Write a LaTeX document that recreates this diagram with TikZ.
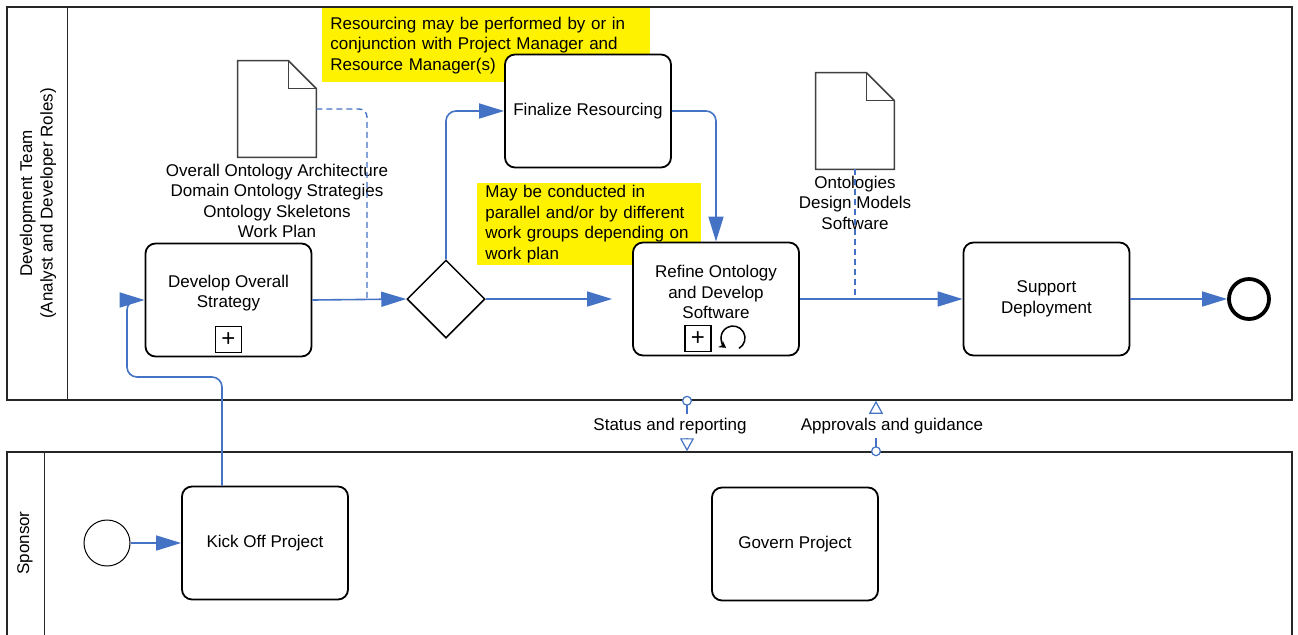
\documentclass[tikz,border=0pt]{standalone}
\usepackage{fontspec}
\setmainfont{Liberation Sans}
\usetikzlibrary{arrows.meta,positioning,shapes.geometric}
\definecolor{flowblue}{RGB}{68,114,196}
\newcommand{\txt}{\fontsize{8.5}{10.3}\selectfont}
\tikzset{pool/.style={rectangle,draw=black!85,line width=0.75pt,inner sep=0pt}}
\tikzset{lanetext/.style={rotate=90,align=center,font=\txt}}
\tikzset{task/.style={rectangle,rounded corners=5pt,draw=black,fill=white,line width=0.9pt,minimum width=83pt,minimum height=56.5pt,align=center,font=\txt}}
\tikzset{tasktext/.style={align=center,font=\txt}}
\tikzset{marker/.style={rectangle,draw=black,fill=white,line width=0.75pt,minimum size=13pt,inner sep=0pt,font=\fontsize{12}{12}\selectfont}}
\tikzset{gateway/.style={diamond,draw=black,fill=white,line width=0.75pt,minimum size=39pt,inner sep=0pt}}
\tikzset{startev/.style={circle,draw=black,fill=white,line width=0.5pt,minimum size=23pt,inner sep=0pt}}
\tikzset{endev/.style={circle,draw=black,fill=white,line width=1.9pt,minimum size=20pt,inner sep=0pt}}
\tikzset{doc/.style={rectangle,minimum width=39pt,minimum height=48pt,inner sep=0pt}}
\tikzset{doctext/.style={align=center,inner sep=1pt,font=\txt}}
\tikzset{note/.style={rectangle,fill=yellow,anchor=north west,align=left,inner xsep=4pt,inner ysep=1pt,font=\txt}}
\tikzset{flow/.style={draw=flowblue,line width=0.8pt,rounded corners=5pt,-{Triangle[length=12.5pt,width=7.5pt]}}}
\tikzset{assoc/.style={draw=flowblue,line width=0.7pt,dash pattern=on 3pt off 2pt,rounded corners=4pt}}
\tikzset{msgflow/.style={draw=flowblue,line width=0.6pt,{Circle[open,fill=white,length=5pt,width=5pt]}-{Triangle[open,fill=white,length=6.5pt,width=7pt]}}}
\tikzset{msgtext/.style={fill=white,inner sep=2pt,font=\txt}}
\newcommand{\docshape}[1]{%
  \draw[line width=0.75pt,draw=black!75,fill=white] (#1.south west) -- (#1.north west) -- ([xshift=-14pt]#1.north east) -- ([yshift=-14pt]#1.north east) -- (#1.south east) -- cycle;
  \draw[line width=0.75pt,draw=black!75] ([xshift=-14pt]#1.north east) |- ([yshift=-14pt]#1.north east);}

\begin{document}
\begin{tikzpicture}[x=0.5pt,y=-0.5pt]
\useasboundingbox (0,0) rectangle (1298,634);

% pools and lanes
\node (devpool) [pool, minimum width=642.5pt, minimum height=196.5pt] at (649.5,203.5) {};
\draw[pool] ([xshift=30.5pt]devpool.north west) -- ([xshift=30.5pt]devpool.south west);
\node (devlabel) [lanetext] at (38,203.5) {Development Team\\(Analyst and Developer Roles)};
\node (sponpool) [pool, minimum width=642.5pt, minimum height=94pt] at (649.5,546) {};
\draw[pool] ([xshift=19pt]sponpool.north west) -- ([xshift=19pt]sponpool.south west);
\node (sponlabel) [lanetext] at (25,543) {Sponsor};

% annotations
\node (note1) [note, text width=156pt, minimum height=37pt] at (322,8) {Resourcing may be performed by or in\\conjunction with Project Manager and\\Resource Manager(s)};
\node (note2) [note, text width=104pt, minimum height=40pt] at (477,183) {May be conducted in\\parallel and/or by different\\work groups depending on\\work plan};

% data objects
\node (doc1) [doc] at (277,109) {};
\docshape{doc1}
\node (doc1text) [doctext, below=2pt of doc1] {Overall Ontology Architecture\\Domain Ontology Strategies\\Ontology Skeletons\\Work Plan};
\node (doc2) [doc] at (855,121) {};
\docshape{doc2}
\node (doc2text) [doctext, below=2pt of doc2] {Ontologies\\Design Models\\Software};

% activities
\node (dev) [task, label={[tasktext, yshift=3.5pt]center:{Develop Overall\\Strategy}}] at (228.5,300) {};
\node (devplus) [marker, above=2pt of dev.south] {+};
\node (gate) [gateway] at (446,299) {};
\node (fin) [task] at (588,111) {Finalize Resourcing};
\node (ref) [task, label={[tasktext, yshift=3.5pt]center:{Refine Ontology\\and Develop\\Software}}] at (716,299) {};
\node (refplus) [marker, above=2pt of ref.south, xshift=-9pt] {+};
\coordinate (loopc) at (733,338);
\draw[line width=0.75pt, -{Stealth[length=3.5pt,width=4pt]}] ([shift={(-60:6pt)}]loopc) arc[start angle=-60, end angle=235, radius=6pt];
\node (sup) [task] at (1046.5,299) {Support\\Deployment};
\node (endev) [endev] at (1249,299) {};
\node (start) [startev] at (107,543) {};
\node (kick) [task] at (265,543) {Kick Off Project};
\node (gov) [task] at (795,544) {Govern Project};

% sequence flows
\coordinate (a1) at (367,299);
\coordinate (kx) at (222,0);
\coordinate (k2) at (127,377);
\draw[flow] (start.east) -- (kick.west);
\draw[flow] (kick.north -| kx) |- (k2) |- (dev.west);
\draw[flow] (dev.east) -- (gate.west);
\draw[assoc] (doc1.east) -| (a1);
\draw[flow] (gate.north) |- (fin.west);
\draw[flow] (fin.east) -| (ref.north);
\draw[flow, shorten >=10pt] (gate.east) -- (ref.west);
\draw[assoc] (doc2.south) -- (doc2.south |- ref.east);
\draw[flow] (ref.east) -- (sup.west);
\draw[flow] (sup.east) -- (endev.west);

% message flows
\coordinate (m1) at (687,0);
\coordinate (m2) at (876,0);
\draw[msgflow, shorten <=-2.5pt] (devpool.south -| m1) -- node[msgtext, xshift=-8.5pt] {Status and reporting} (sponpool.north -| m1);
\draw[msgflow, shorten <=-2.5pt] (sponpool.north -| m2) -- node[msgtext, xshift=8pt] {Approvals and guidance} (devpool.south -| m2);
\end{tikzpicture}
\end{document}
